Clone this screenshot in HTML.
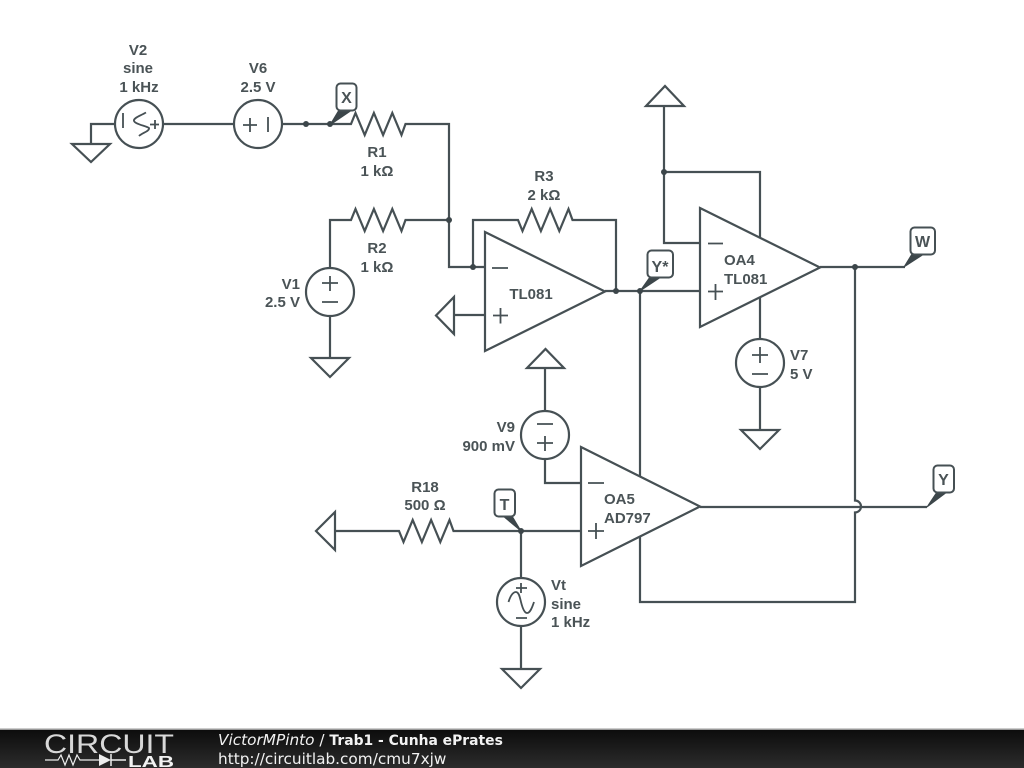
<!DOCTYPE html>
<html>
<head>
<meta charset="utf-8">
<style>
html,body{margin:0;padding:0;background:#fff;width:1024px;height:768px;overflow:hidden}
svg{position:absolute;left:0;top:0;display:block}
.w{fill:none;stroke:#465054;stroke-width:2.2;stroke-linejoin:miter}
.y{fill:none;stroke:#465054;stroke-width:1.8}
.s{fill:#fff;stroke:#465054;stroke-width:2.2;stroke-linejoin:miter}
.d{fill:#3c464a}
.p{fill:#3c464a;stroke:#3c464a;stroke-width:1}
.t{font-family:"Liberation Sans",sans-serif;font-size:15px;font-weight:bold;fill:#4a5356;text-anchor:middle}
.e{text-anchor:end}
.l{text-anchor:start}
.n{font-family:"Liberation Sans",sans-serif;font-size:16px;font-weight:bold;fill:#4a5356;text-anchor:middle}
.b{fill:#fff;stroke:#465054;stroke-width:2}
.f{font-family:"DejaVu Sans",sans-serif;font-size:15.3px;fill:#f2f2f2}
</style>
</head>
<body>
<svg width="1024" height="768" viewBox="0 0 1024 768" xmlns="http://www.w3.org/2000/svg">
<defs>
<linearGradient id="bar" x1="0" y1="0" x2="0" y2="1">
<stop offset="0" stop-color="#0c0c0c"/><stop offset="1" stop-color="#2c2c2c"/>
</linearGradient>
</defs>

<!-- Wires -->
<path class="w" d="M115 124H91V144"/>
<path class="w" d="M163 124H234"/>
<path class="w" d="M282 124H351l4.500 -11 9.200 22 9.200 -22 9.200 22 9.200 -22 9.200 22 4 -11H449V267H485"/>
<path class="w" d="M330 268V220H351l4.500 -11 9.200 22 9.200 -22 9.200 22 9.200 -22 9.200 22 4 -11H449"/>
<path class="w" d="M473 267V220H518l4.500 11 9.200 -22 9.200 22 9.200 -22 9.200 22 9.200 -22 4 11H616V291"/>
<path class="w" d="M330 316V358"/>
<path class="w" d="M605 291H700"/>
<path class="w" d="M454 315H485"/>
<path class="w" d="M700 243H664V106"/>
<path class="w" d="M664 172H760V240"/>
<path class="w" d="M760 297V339"/>
<path class="w" d="M760 387V430"/>
<path class="w" d="M820 267H905"/>
<path class="w" d="M855 267V500.500a6 6 0 0 1 0 12V602H640V291"/>
<path class="w" d="M700 507H927"/>
<path class="w" d="M545 368V411"/>
<path class="w" d="M545 459V483H581"/>
<path class="w" d="M335 531H399l4.500 11 9.200 -22 9.200 22 9.200 -22 9.200 22 9.200 -22 4 11H581"/>
<path class="w" d="M521 531V578"/>
<path class="w" d="M521 626V669"/>

<!-- Grounds -->
<path class="s" d="M72 144H110L91 162Z"/>
<path class="s" d="M311 358H349L330 377Z"/>
<path class="s" d="M741 430H779L760 449Z"/>
<path class="s" d="M502 669H540L521 688Z"/>
<path class="s" d="M646 106H684L665 86Z"/>
<path class="s" d="M527 368H564L545.500 349Z"/>
<path class="s" d="M454 297V334L436 315.500Z"/>
<path class="s" d="M335 512V550L316 531Z"/>

<!-- Op-amps -->
<path class="s" d="M485 232L605 291.500L485 351Z"/>
<path class="y" d="M492 268H508M493 315.500H508M500.500 308V323.500"/>
<path class="s" d="M700 208L820 267.500L700 327Z"/>
<path class="y" d="M708 243.500H723M708 291.500H723M715.500 284V300"/>
<path class="s" d="M581 447L700 506.500L581 566Z"/>
<path class="y" d="M588 483H604M588 531H604M596 523V539"/>

<!-- V2 -->
<circle class="s" cx="139" cy="124" r="24"/>
<path class="y" d="M123 113V128M150 124.500H159M155 120V129"/>
<path class="y" d="M146 112.500C140 116 133 118 134 121C135 124 146 126 149 128C150 131 142 133 139 136"/>
<!-- V6 -->
<circle class="s" cx="258" cy="124" r="24"/>
<path class="y" d="M243 125H257M250 118V132M268 117V132"/>
<!-- V1 -->
<circle class="s" cx="330" cy="292" r="24"/>
<path class="y" d="M322 283H338M330 276V291M322 302H338"/>
<!-- V7 -->
<circle class="s" cx="760" cy="363" r="24"/>
<path class="y" d="M752 355H768M760 347V363M752 374H768"/>
<!-- V9 -->
<circle class="s" cx="545" cy="435" r="24"/>
<path class="y" d="M537 424H553M537 443H553M545 436V451"/>
<!-- Vt -->
<circle class="s" cx="521" cy="602" r="24"/>
<path class="y" d="M516 588H527M521 583V593M516 618H527"/>
<path class="y" d="M508.500 602C511 594 514 592 516 592C519 592 520 598 521 602C522 606 524 613 527 613C530 613 532 608 534 602"/>

<!-- Dots -->
<circle class="d" cx="306" cy="124" r="3"/>
<circle class="d" cx="330" cy="124" r="3"/>
<circle class="d" cx="449" cy="220" r="3"/>
<circle class="d" cx="473" cy="267" r="3"/>
<circle class="d" cx="616" cy="291" r="3"/>
<circle class="d" cx="640" cy="291" r="3"/>
<circle class="d" cx="664" cy="172" r="3"/>
<circle class="d" cx="855" cy="267" r="3"/>
<circle class="d" cx="521" cy="531" r="3"/>

<!-- Net label pointers -->
<path class="p" d="M330 125L339 110H352Z"/>
<path class="p" d="M640 291L650 277H661Z"/>
<path class="p" d="M904 267L912 254H924Z"/>
<path class="p" d="M927 507L937 492H947Z"/>
<path class="p" d="M521 531L503 516H512Z"/>

<!-- Net label boxes -->
<rect class="b" x="336.500" y="83.500" width="20" height="27" rx="4"/>
<text class="n" x="346.500" y="103">X</text>
<rect class="b" x="647.500" y="250.500" width="25.500" height="27" rx="4"/>
<text class="n" x="660" y="272">Y*</text>
<rect class="b" x="910.500" y="227.500" width="24.500" height="27" rx="4"/>
<text class="n" x="922.500" y="247">W</text>
<rect class="b" x="933.500" y="465.500" width="20.500" height="27" rx="4"/>
<text class="n" x="943.500" y="485">Y</text>
<rect class="b" x="494.500" y="489.500" width="20.500" height="27" rx="4"/>
<text class="n" x="504.500" y="510">T</text>

<!-- Labels -->
<text class="t" x="138" y="55">V2</text>
<text class="t" x="138" y="73">sine</text>
<text class="t" x="139" y="92">1 kHz</text>
<text class="t" x="258" y="73">V6</text>
<text class="t" x="258" y="92">2.5 V</text>
<text class="t" x="377" y="157">R1</text>
<text class="t" x="377" y="176">1 kΩ</text>
<text class="t" x="377" y="253">R2</text>
<text class="t" x="377" y="272">1 kΩ</text>
<text class="t" x="544" y="181">R3</text>
<text class="t" x="544" y="200">2 kΩ</text>
<text class="t e" x="300" y="289">V1</text>
<text class="t e" x="300" y="307">2.5 V</text>
<text class="t" x="531" y="299">TL081</text>
<text class="t l" x="724" y="265">OA4</text>
<text class="t l" x="724" y="284">TL081</text>
<text class="t l" x="790" y="360">V7</text>
<text class="t l" x="790" y="379">5 V</text>
<text class="t e" x="515" y="432">V9</text>
<text class="t e" x="515" y="451">900 mV</text>
<text class="t l" x="604" y="504">OA5</text>
<text class="t l" x="604" y="523">AD797</text>
<text class="t" x="425" y="492">R18</text>
<text class="t" x="425" y="510">500 Ω</text>
<text class="t l" x="551" y="590">Vt</text>
<text class="t l" x="551" y="609">sine</text>
<text class="t l" x="551" y="627">1 kHz</text>

<!-- Footer -->
<rect x="0" y="729" width="1024" height="39" fill="url(#bar)"/>
<rect x="0" y="728.500" width="1024" height="1.500" fill="#999"/>
<text x="44" y="753" font-family="Liberation Sans, sans-serif" font-size="27" fill="#d8d8d8" textLength="130" lengthAdjust="spacingAndGlyphs">CIRCUIT</text>
<path d="M45 760H58l3 -5 4 10 4 -10 4 10 4 -10 3 5H99" fill="none" stroke="#eee" stroke-width="1.200"/>
<path d="M99 754V766L111 760Z" fill="#eee"/>
<path d="M111 754V766M111 760H126" fill="none" stroke="#eee" stroke-width="1.500"/>
<text x="128" y="767" font-family="Liberation Sans, sans-serif" font-size="16" font-weight="bold" fill="#f2f2f2" textLength="46" lengthAdjust="spacingAndGlyphs">LAB</text>
<text class="f" x="218" y="745"><tspan font-style="italic">VictorMPinto</tspan> / <tspan font-weight="bold" font-size="13.9">Trab1 - Cunha ePrates</tspan></text>
<text class="f" x="218" y="764">http://circuitlab.com/cmu7xjw</text>
</svg>
</body>
</html>
